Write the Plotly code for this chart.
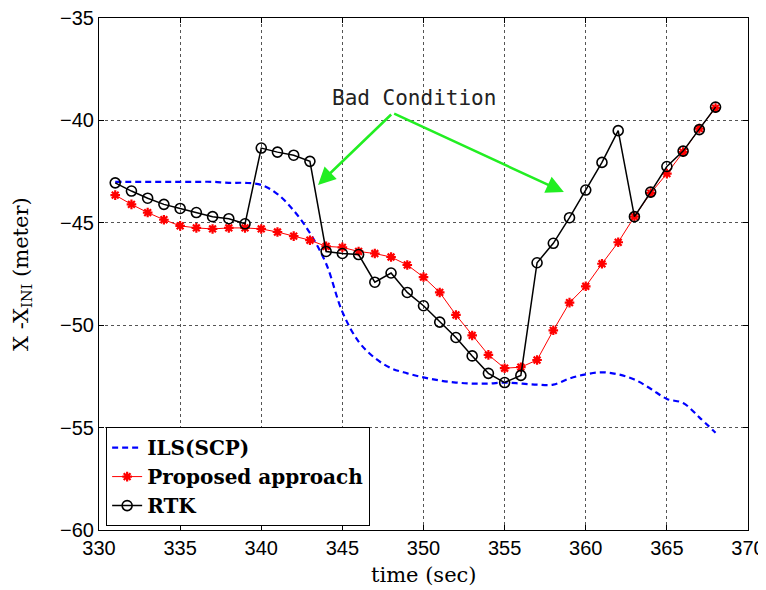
import plotly.graph_objects as go

t_rtk = list(range(331, 369))
rtk = [-43.05, -43.45, -43.8, -44.1, -44.3, -44.5, -44.7, -44.8, -45.05,
       -41.35, -41.55, -41.7, -42.0, -46.4, -46.5, -46.55, -47.9, -47.45,
       -48.4, -49.05, -49.85, -50.6, -51.5, -52.35, -52.8, -52.45,
       -46.95, -46.0, -44.75, -43.4, -42.05, -40.5, -44.7, -43.5, -42.25,
       -41.5, -40.45, -39.35]

proposed = [-43.65, -44.1, -44.5, -44.85, -45.15, -45.25, -45.3, -45.25, -45.25,
            -45.3, -45.45, -45.65, -45.85, -46.15, -46.2, -46.4, -46.5, -46.67,
            -47.06, -47.65, -48.4, -49.5, -50.5, -51.45, -52.1, -52.05,
            -51.7, -50.25, -48.9, -48.1, -47.0, -45.95, -44.7, -43.55, -42.6,
            -41.55, -40.4, -39.4]

t_ils = list(range(331, 369))
ils = [-43.0, -43.0, -43.0, -43.0, -43.0, -43.0, -43.0, -43.05, -43.05,
       -43.15, -43.6, -44.4, -45.5, -47.0, -49.35, -50.8, -51.6, -52.1,
       -52.35, -52.55, -52.7, -52.8, -52.85, -52.85, -52.8, -52.85,
       -52.9, -52.9, -52.6, -52.4, -52.3, -52.4, -52.65, -53.1, -53.6,
       -53.8, -54.5, -55.25]

x_ticks = [330, 335, 340, 345, 350, 355, 360, 365, 370]
y_ticks = [-60, -55, -50, -45, -40, -35]

x_title = "time (sec)"
y_title = "X -X<sub>INI</sub> (meter)"
ann_text = "Bad Condition"
ann_text_pos = (349.4, -38.9)
arrow_apex = (348.1, -39.64)
arrow_tips = [(343.5, -43.15), (358.65, -43.5)]

fig = go.Figure()
fig.add_trace(go.Scatter(x=t_ils, y=ils, mode="lines", name="ILS(SCP)",
                         line=dict(color="#0000ff", width=2.2, dash="6px,4px"),
                         line_shape="spline"))
fig.add_trace(go.Scatter(x=t_rtk, y=proposed, mode="lines+markers", name="Proposed approach",
                         line=dict(color="#ff0000", width=1),
                         marker=dict(symbol="asterisk-open", size=8,
                                     line=dict(color="#ff0000", width=2.2))))
fig.add_trace(go.Scatter(x=t_rtk, y=rtk, mode="lines+markers", name="RTK",
                         line=dict(color="black", width=1.5),
                         marker=dict(symbol="circle-open", size=10,
                                     line=dict(color="black", width=1.6))))

fig.add_annotation(x=ann_text_pos[0], y=ann_text_pos[1], text=ann_text, showarrow=False,
                   font=dict(family="DejaVu Sans Mono", size=21, color="#222"))
for tx, ty in arrow_tips:
    fig.add_annotation(x=tx, y=ty, ax=arrow_apex[0], ay=arrow_apex[1],
                       axref="x", ayref="y", xref="x", yref="y", text="",
                       showarrow=True, arrowhead=2, arrowsize=1.4, arrowwidth=2.5,
                       arrowcolor="#22ee22", standoff=0, startstandoff=0)

# axis titles (plot area is 649 x 512 px)
fig.add_annotation(xref="paper", yref="paper", x=-77 / 649, y=0.5, text=y_title,
                   textangle=-90, showarrow=False, xanchor="center", yanchor="middle",
                   font=dict(family="DejaVu Serif", size=21, color="black"))
fig.add_annotation(xref="paper", yref="paper", x=0.5, y=-45 / 512, text=x_title,
                   showarrow=False, xanchor="center", yanchor="middle",
                   font=dict(family="DejaVu Serif", size=21, color="black"))

axis_common = dict(showgrid=True, gridcolor="#555", griddash="3px,3px", gridwidth=1,
                   showline=True, linecolor="black", linewidth=1, mirror="ticks",
                   ticks="inside", ticklen=5, tickcolor="black", zeroline=False,
                   automargin=False, ticklabeloverflow="allow",
                   tickfont=dict(family="Liberation Sans Narrow, Liberation Sans", size=20, color="black"))

# page body has an 8px offset, so margins are shifted accordingly
fig.update_layout(
    width=766, height=590,
    margin=dict(l=91, r=26, t=10, b=68),
    paper_bgcolor="white", plot_bgcolor="white",
    xaxis=dict(range=[330, 370], tickvals=x_ticks, **axis_common),
    yaxis=dict(range=[-60, -35], tickvals=y_ticks, **axis_common),
    legend=dict(x=0.011, y=0.201, xanchor="left", yanchor="top",
                bordercolor="black", borderwidth=1, bgcolor="white",
                font=dict(family="DejaVu Serif", size=20, color="black", weight="bold"),
                tracegroupgap=0, itemwidth=30),
    showlegend=True,
)
fig.write_html("out.html")
